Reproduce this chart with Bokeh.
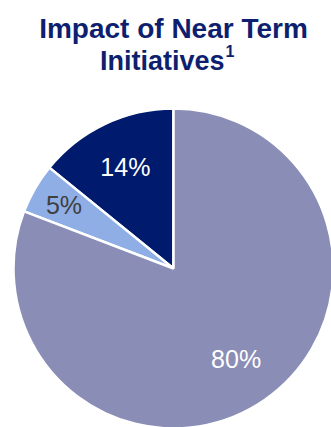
import math
from bokeh.plotting import figure
from bokeh.models import ColumnDataSource, Range1d
from bokeh.core.properties import value
from bokeh.embed import file_html
from bokeh.resources import INLINE

# Data (clockwise from 12 o'clock: 80%, 5%, 14%) -- drawn counterclockwise from top
categories = ["Navy", "Light", "Gray"]
values = [14, 5, 80]
labels = ["14%", "5%", "80%"]
colors = ["#001A6E", "#8FAEE6", "#8A8DB5"]
label_colors = ["#FFFFFF", "#404040", "#FFFFFF"]
label_rfrac = [0.70, 0.79, 0.69]

W, H = 331, 427
cx, cy, R = 173, H - 268, 160

total = sum(values)
starts, ends, lx, ly = [], [], [], []
a = math.pi / 2
for v, rf in zip(values, label_rfrac):
    sweep = v / total * 2 * math.pi
    starts.append(a)
    ends.append(a + sweep)
    mid = a + sweep / 2
    lx.append(cx + R * rf * math.cos(mid))
    ly.append(cy + R * rf * math.sin(mid))
    a += sweep

src = ColumnDataSource(dict(cat=categories, val=values, start=starts, end=ends,
                            color=colors, label=labels, lcolor=label_colors, lx=lx, ly=ly))

p = figure(width=W, height=H, output_backend="svg", toolbar_location=None,
           x_range=Range1d(0, W), y_range=Range1d(0, H), min_border=0)
p.axis.visible = False
p.grid.visible = False
p.outline_line_color = None
p.background_fill_color = "white"
p.border_fill_color = "white"

p.wedge(x=cx, y=cy, radius=R, start_angle="start", end_angle="end",
        fill_color="color", line_color="white", line_width=2.5, source=src)

p.text(x="lx", y="ly", text="label", text_color="lcolor", source=src,
       text_font=value("Liberation Sans"), text_font_size="25px",
       text_align="center", text_baseline="middle")

title_color = "#0D1F6E"
title_font = value("Liberation Sans")
p.text(x=[173], y=[H - 28], text=["Impact of Near Term"],
       text_font=title_font, text_font_style="bold",
       text_font_size="28px", text_color=title_color,
       text_align="center", text_baseline="alphabetic")
p.text(x=[224], y=[H - 60], text=["Initiatives"],
       text_font=title_font, text_font_style="bold",
       text_font_size="27px", text_color=title_color,
       text_align="right", text_baseline="alphabetic")
p.text(x=[225], y=[H - 50], text=["1"],
       text_font=title_font, text_font_style="bold",
       text_font_size="16px", text_color=title_color,
       text_align="left", text_baseline="alphabetic")

open("out.html", "w").write(file_html(p, INLINE))
